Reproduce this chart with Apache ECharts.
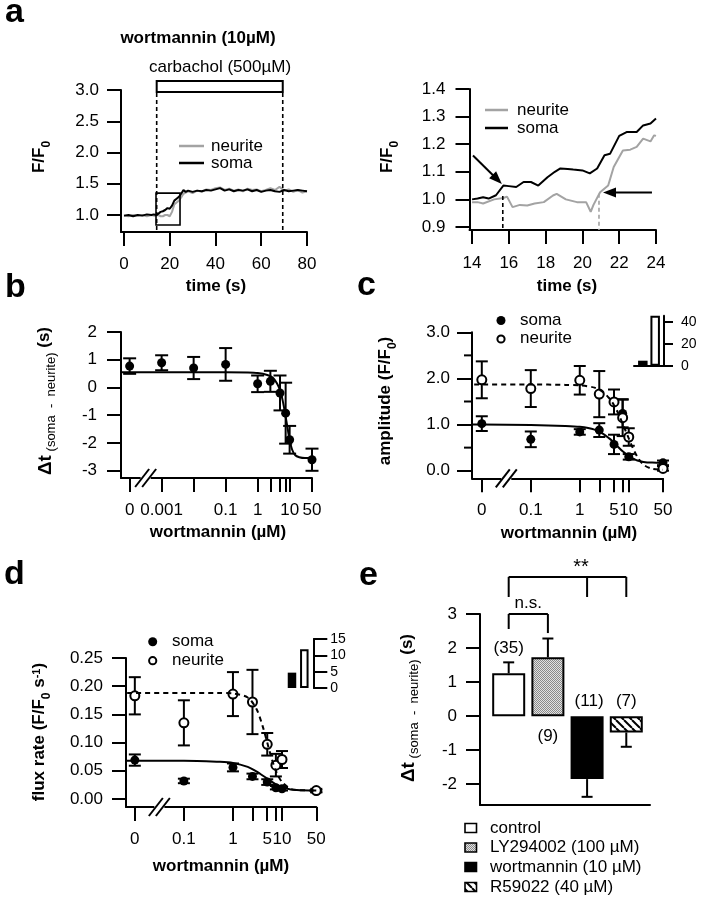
<!DOCTYPE html>
<html><head><meta charset="utf-8">
<script src="https://cdn.jsdelivr.net/npm/echarts@6/dist/echarts.min.js"></script>
<style>html,body{margin:0;padding:0;background:#fff}#c{width:710px;height:900px}</style>
</head><body><div id="c"></div>
<script>
const FONT = '"Liberation Sans", Arial, Helvetica, sans-serif';

// ================= DATA =================
// panel a (left): full traces
const timeLeft = [0,2,4,6,8,10,12,13,14,15,16,17,18,19,20,21,22,23,24,25,26,27,28,30,32,34,36,38,40,42,44,46,48,50,52,54,56,58,60,62,64,66,68,70,72,74,76,78,80];
const somaLeft = [0.99,1.00,0.98,1.00,0.99,1.01,1.00,1.01,1.00,1.02,1.05,1.06,1.08,1.11,1.10,1.15,1.23,1.26,1.29,1.34,1.40,1.37,1.39,1.37,1.39,1.38,1.40,1.39,1.41,1.43,1.39,1.41,1.38,1.40,1.39,1.41,1.38,1.40,1.37,1.39,1.40,1.38,1.37,1.40,1.38,1.39,1.40,1.39,1.38];
const neuriteLeft = [0.99,0.98,1.00,0.99,1.00,0.98,1.00,0.99,0.99,1.00,0.98,0.98,1.00,1.00,0.98,1.05,1.17,1.20,1.23,1.28,1.34,1.36,1.38,1.35,1.39,1.37,1.41,1.40,1.43,1.44,1.40,1.42,1.39,1.41,1.38,1.42,1.40,1.41,1.38,1.40,1.43,1.40,1.45,1.39,1.41,1.37,1.40,1.36,1.38];
const carbacholOn = 14.3, carbacholOff = 69.4;
// panel a (right): zoom 14-24 s
const somaRightT = [14.0,14.3,14.6,14.9,15.3,15.7,16.0,16.4,16.8,17.2,17.6,18.1,18.5,18.8,19.2,19.5,20.0,20.4,20.8,21.2,21.5,22.0,22.4,22.95,23.3,23.7,24.0];
const somaRightV = [1.0,1.003,1.008,1.003,1.015,1.05,1.048,1.045,1.063,1.063,1.05,1.08,1.10,1.112,1.11,1.108,1.105,1.094,1.112,1.16,1.165,1.23,1.244,1.244,1.268,1.275,1.293];
const neuriteRightT = [14.0,14.3,14.6,15.2,15.7,15.9,16.2,16.6,17.0,17.4,17.9,18.4,18.6,19.1,19.7,20.2,20.45,20.6,20.96,21.4,21.7,22.2,22.6,22.95,23.3,23.7,23.9,24.0];
const neuriteRightV = [0.99,0.99,0.985,1.0,1.005,1.01,0.972,0.98,0.978,0.985,0.99,1.014,1.02,1.0,0.99,0.99,0.955,0.98,1.026,1.05,1.117,1.177,1.18,1.19,1.22,1.21,1.232,1.23];
const somaOnset = 15.67, neuriteOnset = 20.9;

// panel b: delta t vs wortmannin
const bConc = [0, 0.001, 0.01, 0.1, 1, 2.5, 5, 7.5, 10, 50];
const bMean = [0.77, 0.89, 0.70, 0.83, 0.13, 0.22, -0.20, -0.93, -1.89, -2.61];
const bSem  = [0.28, 0.27, 0.40, 0.59, 0.30, 0.38, 0.63, 1.10, 0.50, 0.40];
const bFitConc = [0.00005, 0.001, 0.01, 0.1, 0.5, 1, 2, 3, 4, 5, 6, 7, 8, 9, 10, 12, 15, 20, 30, 50];
const bFitVal  = [0.55, 0.55, 0.55, 0.55, 0.54, 0.52, 0.45, 0.35, 0.15, -0.10, -0.45, -0.85, -1.25, -1.60, -1.90, -2.25, -2.45, -2.52, -2.55, -2.55];
const bTickConc  = [0, 0.001, 0.01, 0.1, 1, 2.5, 5, 7.5, 10, 50];
const bLabelConc = [0, 0.001, 0.1, 1, 10, 50];

// panel c: amplitude
const cConc = [0, 0.1, 1, 2.5, 5, 7.5, 10, 50];
const cSomaMean = [1.02, 0.68, 0.84, 0.88, 0.57, 1.24, 0.30, 0.17];
const cSomaSem  = [0.16, 0.17, 0.06, 0.15, 0.21, 0.30, 0.06, 0.05];
const cNeuriteMean = [1.97, 1.78, 1.96, 1.66, 1.49, 1.15, 0.73, 0.05];
const cNeuriteSem  = [0.40, 0.40, 0.31, 0.50, 0.27, 0.40, 0.19, 0.05];
const cSomaFitConc = [0.003, 0.01, 0.1, 0.5, 1, 2, 3, 4, 5, 6, 7.5, 10, 12, 15, 20, 30, 50];
const cSomaFitVal  = [1.0, 1.0, 0.99, 0.97, 0.95, 0.89, 0.80, 0.70, 0.61, 0.52, 0.42, 0.32, 0.27, 0.22, 0.19, 0.175, 0.17];
const cNeuriteFitConc = [0.003, 0.1, 0.5, 1, 2, 3, 4, 5, 6, 7.5, 10, 12, 15, 20, 30, 50];
const cNeuriteFitVal  = [1.87, 1.87, 1.86, 1.85, 1.80, 1.70, 1.57, 1.42, 1.26, 1.02, 0.70, 0.50, 0.30, 0.13, 0.04, 0.02];
const cdTickConc  = [0, 0.1, 1, 2.5, 5, 7.5, 10, 50];
const cdLabelConc = [0, 0.1, 1, 5, 10, 50];
const cMajorTicks = [0, 1, 2, 3];
const cMinorTicks = [0.5, 1.5, 2.5];
const cInsetVals = [4.6, 46];      // soma, neurite
const cInsetTicks = [0, 20, 40];

// panel d: flux rate
const dConc = [0, 0.1, 1, 2.5, 5, 7.5, 10, 50];
const dSomaMean = [0.069, 0.032, 0.056, 0.040, 0.030, 0.020, 0.018, 0.014];
const dSomaSem  = [0.010, 0.004, 0.007, 0.005, 0.005, 0.003, 0.003, 0.002];
const dNeuriteMean = [0.183, 0.135, 0.186, 0.172, 0.097, 0.060, 0.070, 0.015];
const dNeuriteSem  = [0.033, 0.040, 0.039, 0.057, 0.020, 0.020, 0.015, 0.003];
const dSomaFitConc = [0.003, 0.1, 0.5, 1, 2, 3, 5, 7.5, 10, 15, 20, 50];
const dSomaFitVal  = [0.068, 0.068, 0.066, 0.064, 0.057, 0.049, 0.036, 0.026, 0.021, 0.017, 0.016, 0.015];
const dNeuriteFitConc = [0.003, 0.1, 0.5, 1, 2, 3, 4, 5, 6, 7.5, 10, 15, 20, 50];
const dNeuriteFitVal  = [0.188, 0.188, 0.188, 0.187, 0.180, 0.160, 0.130, 0.100, 0.075, 0.050, 0.030, 0.018, 0.016, 0.015];
const dInsetVals = [4.7, 11.9];    // soma, neurite
const dInsetTicks = [0, 5, 10, 15];

// panel e: bar chart
const eCats = ['control', 'LY294002 (100 \u00b5M)', 'wortmannin (10 \u00b5M)', 'R59022 (40 \u00b5M)'];
const eMean = [1.26, 1.73, -1.85, -0.48];
const eSem  = [0.32, 0.55, 0.52, 0.42];
const eN    = [35, 9, 11, 7];

// ================= HELPERS =================
const B_ZERO = 1e-4, CD_ZERO = 1e-2;
function lx(c, zeroAt) { return Math.log10(c === 0 ? zeroAt : c); }
function logFmt(list, zeroAt) {
  return v => { for (const c of list) if (Math.abs(lx(c, zeroAt) - v) < 1e-6) return String(c); return ''; };
}
function vAxis(o) {
  return {
    type: 'value', gridIndex: o.grid, min: o.min, max: o.max, position: o.position,
    axisLine: {show: o.showLine !== false, onZero: false, lineStyle: {color: '#000', width: 2}},
    axisTick: {show: !!o.ticks, length: o.tickLen || 14, customValues: o.ticks, lineStyle: {color: '#000', width: 2}},
    axisLabel: {show: !!o.labels, customValues: o.labels, margin: o.margin, formatter: o.fmt,
      color: '#000', fontSize: o.fontSize || 17, fontFamily: FONT},
    splitLine: {show: false}, minorTick: {show: false}
  };
}
function zip(a, b) { return a.map((v, i) => [v, b[i]]); }
function logPts(conc, vals, zeroAt) { return conc.map((c, i) => [lx(c, zeroAt), vals[i]]); }
function errData(conc, mean, sem, zeroAt) { return conc.map((c, i) => [lx(c, zeroAt), mean[i], sem[i]]); }

function errSeries(ai, data, capHalf, oneSided) {
  return {
    type: 'custom', xAxisIndex: ai, yAxisIndex: ai, data, silent: true, encode: {x: 0, y: 1},
    renderItem(params, api) {
      const x = api.value(0), m = api.value(1), e = api.value(2);
      const st = {stroke: '#000', lineWidth: 2};
      let p1, p2;
      if (oneSided) { p1 = api.coord([x, m]); p2 = api.coord([x, m + (m >= 0 ? e : -e)]); }
      else { p1 = api.coord([x, m + e]); p2 = api.coord([x, m - e]); }
      const ch = [{type: 'line', shape: {x1: p1[0], y1: p1[1], x2: p2[0], y2: p2[1]}, style: st},
        {type: 'line', shape: {x1: p2[0] - capHalf, y1: p2[1], x2: p2[0] + capHalf, y2: p2[1]}, style: st}];
      if (!oneSided) ch.push({type: 'line', shape: {x1: p1[0] - capHalf, y1: p1[1], x2: p1[0] + capHalf, y2: p1[1]}, style: st});
      return {type: 'group', children: ch};
    }
  };
}
function fitLine(ai, data, dashed) {
  return {type: 'line', xAxisIndex: ai, yAxisIndex: ai, data, showSymbol: false, smooth: 0.3, clip: true, silent: true,
    lineStyle: {color: '#000', width: 2, type: dashed ? [5, 4] : 'solid'}};
}
function dots(ai, data, open) {
  return {type: 'scatter', xAxisIndex: ai, yAxisIndex: ai, data, symbol: 'circle', symbolSize: 9, silent: true,
    emphasis: {disabled: true},
    itemStyle: open ? {color: '#fff', borderColor: '#000', borderWidth: 2, opacity: 1} : {color: '#000', opacity: 1}};
}
function trace(ai, data, color) {
  return {type: 'line', xAxisIndex: ai, yAxisIndex: ai, data, showSymbol: false, silent: true,
    lineStyle: {color, width: 2}};
}

// patterns
function stipple() {
  const c = document.createElement('canvas'); c.width = c.height = 4;
  const g = c.getContext('2d'); g.fillStyle = '#e2e2e2'; g.fillRect(0, 0, 4, 4);
  g.fillStyle = '#8a8a8a';
  for (let i = 0; i < 4; i++) for (let j = 0; j < 4; j++) if ((i + j) % 2 === 0) g.fillRect(i, j, 1, 1);
  return c;
}
function hatch() {
  const c = document.createElement('canvas'); c.width = c.height = 8;
  const g = c.getContext('2d'); g.fillStyle = '#fff'; g.fillRect(0, 0, 8, 8);
  g.strokeStyle = '#000'; g.lineWidth = 2;
  for (const k of [-8, 0, 8]) { g.beginPath(); g.moveTo(k, 0); g.lineTo(k + 8, 8); g.stroke(); }
  return c;
}
const PAT_LY = {image: stipple(), repeat: 'repeat'};
const PAT_R = {image: hatch(), repeat: 'repeat'};
const eFill = ['#fff', PAT_LY, '#000', PAT_R];

// ================= OPTION =================
const log50 = Math.log10(50);

const option = {
  backgroundColor: '#fff',
  animation: false,
  textStyle: {fontFamily: FONT},
  grid: [
    {left: 121, top: 90, width: 186, height: 142, outerBoundsMode: 'none'},
    {left: 469.5, top: 89, width: 186.5, height: 141, outerBoundsMode: 'none'},
    {left: 121, top: 332, width: 191, height: 146, outerBoundsMode: 'none'},
    {left: 472, top: 332.3, width: 191, height: 146, outerBoundsMode: 'none'},
    {left: 634, top: 315.7, width: 30, height: 50, outerBoundsMode: 'none'},
    {left: 126, top: 658, width: 190.3, height: 149, outerBoundsMode: 'none'},
    {left: 283, top: 639, width: 30.3, height: 49, outerBoundsMode: 'none'},
    {left: 480, top: 614, width: 170, height: 191, outerBoundsMode: 'none'}
  ],
  xAxis: [
    vAxis({grid: 0, min: -1.3, max: 80, ticks: [0, 20, 40, 60, 80], labels: [0, 20, 40, 60, 80], margin: 24, fmt: v => v.toFixed(0)}),
    vAxis({grid: 1, min: 13.86, max: 24, ticks: [14, 16, 18, 20, 22, 24], labels: [14, 16, 18, 20, 22, 24], margin: 25, fmt: v => v.toFixed(0)}),
    vAxis({grid: 2, min: -4.27, max: log50, ticks: bTickConc.map(c => lx(c, B_ZERO)), labels: bLabelConc.map(c => lx(c, B_ZERO)), margin: 24, fmt: logFmt(bLabelConc, B_ZERO)}),
    vAxis({grid: 3, min: -2.2, max: log50, ticks: cdTickConc.map(c => lx(c, CD_ZERO)), labels: cdLabelConc.map(c => lx(c, CD_ZERO)), margin: 24, fmt: logFmt(cdLabelConc, CD_ZERO)}),
    {type: 'category', gridIndex: 4, data: [''], axisLine: {show: true, lineStyle: {color: '#000', width: 2}}, axisTick: {show: false}, axisLabel: {show: false}},
    vAxis({grid: 5, min: -2.18, max: log50, ticks: cdTickConc.map(c => lx(c, CD_ZERO)), labels: cdLabelConc.map(c => lx(c, CD_ZERO)), margin: 24, fmt: logFmt(cdLabelConc, CD_ZERO)}),
    {type: 'category', gridIndex: 6, data: [''], axisLine: {show: false}, axisTick: {show: false}, axisLabel: {show: false}},
    vAxis({grid: 7, min: -0.732, max: 3.605})
  ],
  yAxis: [
    vAxis({grid: 0, min: 0.728, max: 3.0, ticks: [1, 1.5, 2, 2.5, 3], labels: [1, 1.5, 2, 2.5, 3], margin: 22, fmt: v => v.toFixed(1)}),
    vAxis({grid: 1, min: 0.889, max: 1.4, ticks: [0.9, 1.0, 1.1, 1.2, 1.3, 1.4], labels: [0.9, 1.0, 1.1, 1.2, 1.3, 1.4], margin: 24, fmt: v => v.toFixed(1)}),
    vAxis({grid: 2, min: -3.27, max: 2, ticks: [-3, -2, -1, 0, 1, 2], labels: [-3, -2, -1, 0, 1, 2], margin: 24, fmt: v => v.toFixed(0)}),
    vAxis({grid: 3, min: -0.165, max: 3.0, ticks: cMajorTicks, labels: cMajorTicks, margin: 22, tickLen: 15, fmt: v => v.toFixed(1)}),
    vAxis({grid: 4, min: 0, max: 46, position: 'right', ticks: cInsetTicks, labels: cInsetTicks, tickLen: 9, margin: 17, fontSize: 14, fmt: v => v.toFixed(0)}),
    vAxis({grid: 5, min: -0.0142, max: 0.25, ticks: [0, 0.05, 0.1, 0.15, 0.2, 0.25], labels: [0, 0.05, 0.1, 0.15, 0.2, 0.25], margin: 23, fmt: v => v.toFixed(2)}),
    vAxis({grid: 6, min: 0, max: 15, position: 'right', ticks: dInsetTicks, labels: dInsetTicks, tickLen: 14, margin: 17, fontSize: 14, fmt: v => v.toFixed(0)}),
    vAxis({grid: 7, min: -2.61, max: 3, ticks: [-2, -1, 0, 1, 2, 3], labels: [-2, -1, 0, 1, 2, 3], margin: 23, fmt: v => v.toFixed(0)})
  ],
  series: [
    // a left
    trace(0, zip(timeLeft, neuriteLeft), '#a3a3a3'),
    trace(0, zip(timeLeft, somaLeft), '#000'),
    // a right
    trace(1, zip(neuriteRightT, neuriteRightV), '#a3a3a3'),
    trace(1, zip(somaRightT, somaRightV), '#000'),
    // b
    fitLine(2, logPts(bFitConc, bFitVal, B_ZERO), false),
    errSeries(2, errData(bConc, bMean, bSem, B_ZERO), 6.5, false),
    dots(2, logPts(bConc, bMean, B_ZERO), false),
    // c
    fitLine(3, logPts(cSomaFitConc, cSomaFitVal, CD_ZERO), false),
    fitLine(3, logPts(cNeuriteFitConc, cNeuriteFitVal, CD_ZERO), true),
    errSeries(3, errData(cConc, cSomaMean, cSomaSem, CD_ZERO), 6, false),
    errSeries(3, errData(cConc, cNeuriteMean, cNeuriteSem, CD_ZERO), 6, false),
    dots(3, logPts(cConc, cSomaMean, CD_ZERO), false),
    dots(3, logPts(cConc, cNeuriteMean, CD_ZERO), true),
    // c inset
    {type: 'bar', xAxisIndex: 4, yAxisIndex: 4, data: [cInsetVals[0]], barWidth: 9.5, barGap: '30%', silent: true, itemStyle: {color: '#000'}},
    {type: 'bar', xAxisIndex: 4, yAxisIndex: 4, data: [cInsetVals[1]], barWidth: 9.5, barGap: '30%', silent: true, itemStyle: {color: '#fff', borderColor: '#000', borderWidth: 2}},
    // d
    fitLine(5, logPts(dSomaFitConc, dSomaFitVal, CD_ZERO), false),
    fitLine(5, logPts(dNeuriteFitConc, dNeuriteFitVal, CD_ZERO), true),
    errSeries(5, errData(dConc, dSomaMean, dSomaSem, CD_ZERO), 6, false),
    errSeries(5, errData(dConc, dNeuriteMean, dNeuriteSem, CD_ZERO), 6, false),
    dots(5, logPts(dConc, dSomaMean, CD_ZERO), false),
    dots(5, logPts(dConc, dNeuriteMean, CD_ZERO), true),
    // d inset
    {type: 'bar', xAxisIndex: 6, yAxisIndex: 6, data: [dInsetVals[0]], barWidth: 8.5, barGap: '45%', silent: true, itemStyle: {color: '#000'}},
    {type: 'bar', xAxisIndex: 6, yAxisIndex: 6, data: [dInsetVals[1]], barWidth: 8.5, barGap: '45%', silent: true, itemStyle: {color: '#fff', borderColor: '#000', borderWidth: 2}},
    // e
    {type: 'bar', xAxisIndex: 7, yAxisIndex: 7, barWidth: 33, silent: true,
      data: eMean.map((m, i) => ({value: [i, m], itemStyle: {color: eFill[i], borderColor: '#000', borderWidth: 2}}))},
    errSeries(7, eMean.map((m, i) => [i, m, eSem[i]]), 5.5, true)
  ]
};

const chart = echarts.init(document.getElementById('c'), null, {renderer: 'canvas', width: 710, height: 900});
chart.setOption(option);

// ================= ANNOTATIONS =================
const P = (ai, x, y) => chart.convertToPixel({xAxisIndex: ai, yAxisIndex: ai}, [x, y]);
const g = [];
function T(x, y, text, o = {}) {
  const style = {text, x: 0, y: 0, align: o.align || 'center', verticalAlign: o.va || 'middle',
    fontFamily: FONT, fontSize: o.size || 17, fontWeight: o.bold ? 'bold' : 'normal', fill: '#000'};
  if (o.rich) style.rich = o.rich;
  g.push({type: 'text', x, y, rotation: o.rot || 0, z: 100, silent: true, style});
}
function L(x1, y1, x2, y2, o = {}) {
  g.push({type: 'line', z: 100, silent: true, shape: {x1, y1, x2, y2},
    style: {stroke: o.color || '#000', lineWidth: o.w || 2, lineDash: o.dash || null}});
}
function arrow(p0, p1) {
  const dx = p1[0] - p0[0], dy = p1[1] - p0[1], len = Math.hypot(dx, dy), ux = dx / len, uy = dy / len;
  const hl = 13, hw = 5;
  const bx = p1[0] - ux * hl, by = p1[1] - uy * hl;
  L(p0[0], p0[1], bx + ux * 2, by + uy * 2, {w: 2});
  g.push({type: 'polygon', z: 100, silent: true, shape: {points: [[p1[0], p1[1]], [bx - uy * hw, by + ux * hw], [bx + uy * hw, by - ux * hw]]}, style: {fill: '#000'}});
}
function axisBreak(ai, xv, yv) {
  const p = P(ai, xv, yv);
  g.push({type: 'rect', z: 99, silent: true, shape: {x: p[0] - 5, y: p[1] - 3, width: 10, height: 6}, style: {fill: '#fff'}});
  for (const off of [-3.5, 3.5]) L(p[0] + off - 7, p[1] + 9, p[0] + off + 7, p[1] - 9, {w: 2});
}
const RICH = {
  b: {fontFamily: FONT, fontSize: 17, fontWeight: 'bold', lineHeight: 22, verticalAlign: 'top'},
  big: {fontFamily: FONT, fontSize: 19, fontWeight: 'bold', lineHeight: 22, verticalAlign: 'top'},
  sb: {fontFamily: FONT, fontSize: 12, fontWeight: 'bold', verticalAlign: 'bottom'},
  sr: {fontFamily: FONT, fontSize: 13, verticalAlign: 'bottom'},
  sup: {fontFamily: FONT, fontSize: 11, fontWeight: 'bold', verticalAlign: 'top'}
};
const ROT = Math.PI / 2;

// panel letters
T(5, 13, 'a', {size: 34, bold: true, align: 'left'});
T(5, 288, 'b', {size: 34, bold: true, align: 'left'});
T(357, 286, 'c', {size: 34, bold: true, align: 'left'});
T(4, 575, 'd', {size: 34, bold: true, align: 'left'});
T(359, 576, 'e', {size: 34, bold: true, align: 'left'});

// ---- panel a left
T(198, 38, 'wortmannin (10\u00b5M)', {bold: true});
T(220, 67, 'carbachol (500\u00b5M)');
{
  const y3 = P(0, 0, 3.0)[1], yb = P(0, 0, 0.728)[1];
  const xOn = P(0, carbacholOn, 1)[0], xOff = P(0, carbacholOff, 1)[0];
  g.push({type: 'rect', z: 100, silent: true, shape: {x: xOn, y: y3 - 9, width: xOff - xOn, height: 11}, style: {fill: 'none', stroke: '#000', lineWidth: 2}});
  L(xOn, y3 + 3, xOn, yb, {w: 1.6, dash: [4, 3]});
  L(xOff, y3 + 3, xOff, yb, {w: 1.6, dash: [4, 3]});
  const b1 = P(0, 14, 1.35), b2 = P(0, 24.5, 0.84);
  g.push({type: 'rect', z: 100, silent: true, shape: {x: b1[0], y: b1[1], width: b2[0] - b1[0], height: b2[1] - b1[1]}, style: {fill: 'none', stroke: '#000', lineWidth: 1.6}});
}
L(179, 146, 204, 146, {color: '#a3a3a3', w: 2.5});
T(211, 146, 'neurite', {align: 'left'});
L(179, 163, 204, 163, {color: '#000', w: 2.5});
T(211, 163, 'soma', {align: 'left'});
T(42, 157, '{b|F/F}{sb|0}', {rot: ROT, rich: RICH});
T(216, 286, 'time (s)', {bold: true});

// ---- panel a right
{
  const yb = P(1, 14, 0.889)[1];
  const ps = P(1, somaOnset, 1.012), pn = P(1, neuriteOnset, 1.02);
  L(ps[0], ps[1], ps[0], yb, {w: 1.6, dash: [4, 3]});
  L(pn[0], pn[1], pn[0], yb, {w: 1.6, dash: [4, 3], color: '#a3a3a3'});
  arrow(P(1, 14.05, 1.159), P(1, 15.62, 1.056));
  arrow(P(1, 23.78, 1.025), P(1, 21.12, 1.025));
}
L(485, 110, 508, 110, {color: '#a3a3a3', w: 2.5});
T(517, 110, 'neurite', {align: 'left'});
L(485, 128, 508, 128, {color: '#000', w: 2.5});
T(517, 128, 'soma', {align: 'left'});
T(390, 157, '{b|F/F}{sb|0}', {rot: ROT, rich: RICH});
T(567, 286, 'time (s)', {bold: true});

// ---- panel b
axisBreak(2, -3.5, -3.27);
T(47, 401, '{big|\u0394t}{sr| (soma  -  neurite)}{b| (s)}', {rot: ROT, rich: RICH});
T(218, 532, 'wortmannin (\u00b5M)', {bold: true});

// ---- panel c
axisBreak(3, -1.5, -0.165);
cMinorTicks.forEach(v => { const p = P(3, -2.2, v); L(p[0] - 8, p[1], p[0], p[1]); });
T(388, 401, '{b|amplitude (F/F}{sb|0}{b|)}', {rot: ROT, rich: RICH});
T(569, 533, 'wortmannin (\u00b5M)', {bold: true});
g.push({type: 'circle', z: 100, silent: true, shape: {cx: 501, cy: 320.5, r: 4.5}, style: {fill: '#000'}});
T(520, 320, 'soma', {align: 'left'});
g.push({type: 'circle', z: 100, silent: true, shape: {cx: 501, cy: 339, r: 3.6}, style: {fill: '#fff', stroke: '#000', lineWidth: 2}});
T(520, 338.5, 'neurite', {align: 'left'});

// ---- panel d
axisBreak(5, -1.5, -0.0142);
T(42, 732, '{b|flux rate (F/F}{sb|0}{b| s}{sup|-1}{b|)}', {rot: ROT, rich: RICH});
T(221, 866, 'wortmannin (\u00b5M)', {bold: true});
g.push({type: 'circle', z: 100, silent: true, shape: {cx: 152.7, cy: 641.7, r: 4.5}, style: {fill: '#000'}});
T(172, 641, 'soma', {align: 'left'});
g.push({type: 'circle', z: 100, silent: true, shape: {cx: 152.7, cy: 660.7, r: 3.6}, style: {fill: '#fff', stroke: '#000', lineWidth: 2}});
T(172, 660, 'neurite', {align: 'left'});

// ---- panel e
T(410, 708, '{big|\u0394t}{sr| (soma  -  neurite)}{b| (s)}', {rot: ROT, rich: RICH});
{
  const a = P(7, 0, 3.0), b = P(7, 1, 3.0);
  const al = P(7, 0, 2.56), bl = P(7, 1, 2.44);
  L(a[0], al[1], a[0], a[1]); L(a[0], a[1], b[0], b[1]); L(b[0], b[1], b[0], bl[1]);
  T((a[0] + b[0]) / 2, a[1] - 11, 'n.s.');
  const s0 = P(7, 0, 4.09), s3 = P(7, 3, 4.09), s2 = P(7, 2, 4.09), legY = P(7, 0, 3.5)[1];
  L(s0[0], legY, s0[0], s0[1]); L(s0[0], s0[1], s3[0], s3[1]); L(s3[0], s3[1], s3[0], legY);
  L(s2[0], s2[1], s2[0], legY);
  T(s2[0] - 6, s0[1] - 9, '**', {size: 20});
  const nAt = [2.0, -0.6, 0.45, 0.45];
  eN.forEach((n, i) => { const p = P(7, i, nAt[i]); T(p[0] + (i === 2 ? 2 : 0), p[1], '(' + n + ')'); });
}
const legRows = [828, 847.5, 867, 887];
eCats.forEach((name, i) => {
  g.push({type: 'rect', z: 100, silent: true, shape: {x: 465, y: legRows[i] - 4.5, width: 11.5, height: 9},
    style: {fill: eFill[i], stroke: '#000', lineWidth: 1.6}});
  T(490, legRows[i], name, {align: 'left'});
});

chart.setOption({graphic: {elements: g}});
</script>
</body></html>
